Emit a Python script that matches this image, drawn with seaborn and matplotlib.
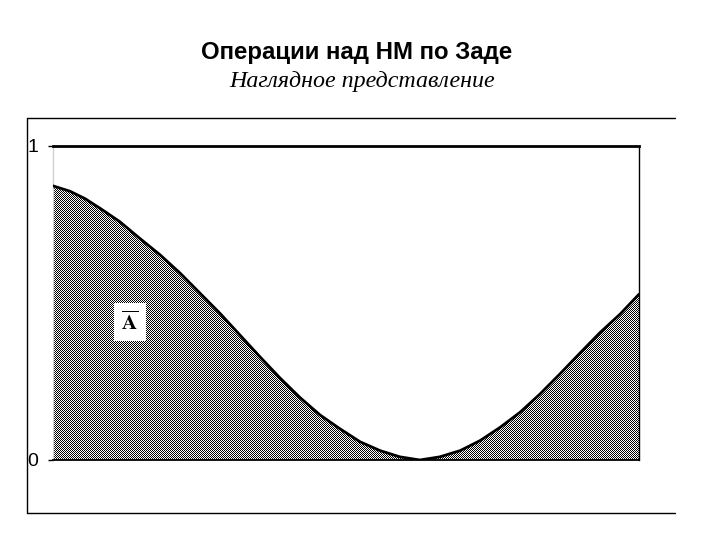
import numpy as np
import pandas as pd
import matplotlib
matplotlib.use("Agg")
import matplotlib.pyplot as plt
from matplotlib.lines import Line2D
import seaborn as sns

# values (x in arbitrary units 0..10, membership 0..1)
x_vals = [0.0, 0.29, 0.55, 0.80, 1.14, 1.48, 1.83, 2.17, 2.51, 2.85, 3.19,
          3.53, 3.87, 4.22, 4.56, 4.90, 5.24, 5.58, 5.92, 6.26, 6.60, 6.95,
          7.29, 7.63, 7.97, 8.31, 8.65, 8.99, 9.33, 9.68, 10.0]
mu_not_a = [0.873, 0.856, 0.832, 0.802, 0.759, 0.706, 0.653, 0.595, 0.531,
            0.467, 0.398, 0.329, 0.262, 0.198, 0.143, 0.099, 0.058, 0.030,
            0.010, 0.0, 0.010, 0.030, 0.062, 0.104, 0.152, 0.210, 0.274,
            0.340, 0.405, 0.465, 0.528]
y_ticks = [0, 1]
y_tick_labels = ["0", "1"]
title = "Операции над НМ по Заде"
subtitle = "Наглядное представление"
set_label = r"$\overline{\mathbf{A}}$"

sns.set_style("white")
plt.rcParams["font.family"] = ["Liberation Sans", "DejaVu Sans"]
plt.rcParams["mathtext.fontset"] = "stix"
plt.rcParams["text.color"] = "black"
plt.rcParams["ytick.labelcolor"] = "black"

df = pd.DataFrame({"x": x_vals, "mu": mu_not_a})

fig = plt.figure(figsize=(7.2, 5.4), dpi=100)
ax = fig.add_axes([53 / 720, 1 - 460 / 540, 586 / 720, 314 / 540])

# checkered fill under the curve, clipped to the area
poly = ax.fill_between(df["x"], 0, df["mu"], facecolor="none", edgecolor="none")
ny, nx = 314, 586
checker = (np.indices((ny, nx)).sum(axis=0) % 2).astype(float)
img = ax.imshow(checker, cmap="gray", vmin=0, vmax=1, extent=(0, 10, 0, 1),
                aspect="auto", interpolation="nearest", origin="lower", zorder=1)
img.set_clip_path(poly.get_paths()[0], transform=ax.transData)

sns.lineplot(data=df, x="x", y="mu", color="black", lw=2, ax=ax, zorder=3)

ax.set_xlim(0, 10)
ax.set_ylim(0, 1)
ax.set_xlabel("")
ax.set_ylabel("")
ax.set_xticks([])
ax.set_yticks(y_ticks)
ax.set_yticklabels(y_tick_labels, fontsize=14, color="black")
ax.tick_params(axis="y", left=True, length=3.6, width=1, color="black", pad=7)

for side in ["top", "right", "bottom", "left"]:
    ax.spines[side].set_visible(True)
ax.spines["top"].set_color("black")
ax.spines["top"].set_linewidth(2)
ax.spines["right"].set_color("black")
ax.spines["right"].set_linewidth(1)
ax.spines["bottom"].set_color("black")
ax.spines["bottom"].set_linewidth(1.3)
ax.spines["left"].set_color("#d0d0d0")
ax.spines["left"].set_linewidth(1)

ax.text(1.31, 0.44, set_label, fontsize=15, ha="center", va="center",
        bbox=dict(boxstyle="square,pad=0.35", facecolor="white", edgecolor="none"),
        zorder=4)

# outer frame (right edge is cut off in the original)
fx0, fx1 = 27 / 720, 675 / 720
fy0, fy1 = 1 - 513 / 540, 1 - 118 / 540
for xs, ys in [([fx0, fx0], [fy0, fy1]), ([fx0, fx1], [fy1, fy1]), ([fx0, fx1], [fy0, fy0])]:
    fig.add_artist(Line2D(xs, ys, transform=fig.transFigure, color="black", lw=1))

fig.text(357 / 720, 1 - 52 / 540, title, ha="center", va="center",
         fontsize=17.3, fontweight="bold", color="black")
fig.text(362 / 720, 1 - 82 / 540, subtitle, ha="center", va="center",
         fontsize=17.3, fontstyle="italic", color="black",
         family=["Liberation Serif", "DejaVu Serif"])

fig.savefig("out.png", dpi=100)
